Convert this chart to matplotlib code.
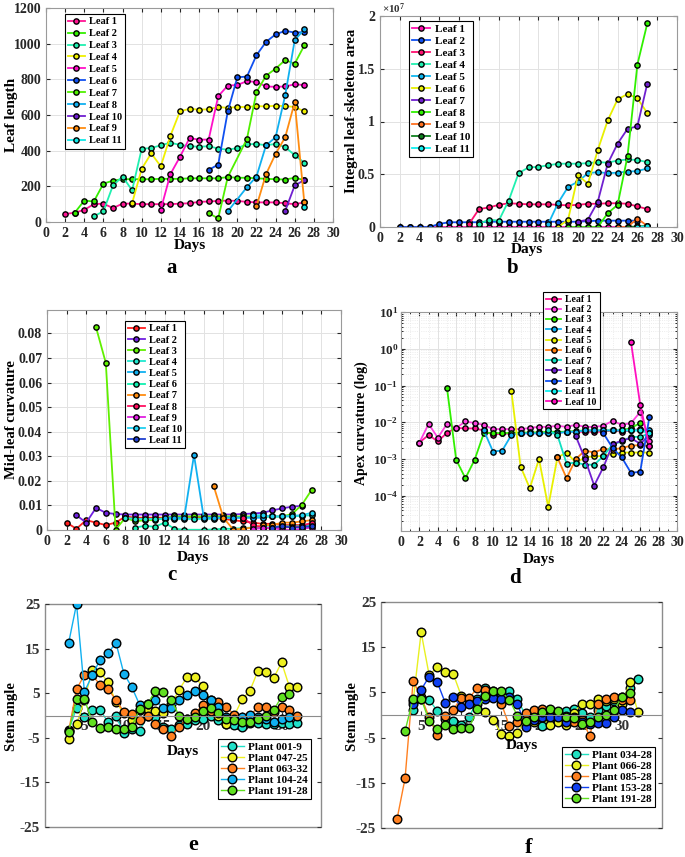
import numpy as np
import matplotlib
matplotlib.use('Agg')
import matplotlib.pyplot as plt
from matplotlib.ticker import MultipleLocator, FuncFormatter, LogLocator, NullFormatter
from matplotlib.patches import Rectangle

plt.rcParams['font.family'] = 'Liberation Serif'
plt.rcParams['font.weight'] = 'bold'
plt.rcParams['axes.unicode_minus'] = False
plt.rcParams['mathtext.fontset'] = 'custom'
plt.rcParams['mathtext.rm'] = 'Liberation Serif:bold'
plt.rcParams['mathtext.it'] = 'Liberation Serif:italic:bold'
plt.rcParams['mathtext.bf'] = 'Liberation Serif:bold'

nan = np.nan

# ---------- a: leaf length ----------
a_labels = ['Leaf 1', 'Leaf 2', 'Leaf 3', 'Leaf 4', 'Leaf 5', 'Leaf 6', 'Leaf 7', 'Leaf 8', 'Leaf 10', 'Leaf 9', 'Leaf 11']
a_colors = ['#ff1493', '#33ee00', '#20f0b0', '#f0f000', '#ff10c8', '#1050f0', '#50f000', '#10b0f0', '#7020d0', '#ff8c10', '#10e8e8']
a_start = [2, 3, 5, 9, 12, 17, 17, 19, 25, 22, 27]
a_vals = [
    [45, 52, 68, 100, 103, 78, 103, 103, 100, 100, 100, 100, 103, 105, 113, 115, 118, 120, 118, 113, 110, 110, 110, 105, 100, 110],
    [52, 120, 115, 215, 232, 240, 240, 240, 240, 242, 242, 242, 245, 245, 245, 245, 252, 248, 248, 245, 242, 240, 238, 248, 235],
    [32, 60, 205, 255, 178, 410, 415, 430, 445, 432, 425, 422, 425, 412, 405, 415, 435, 438, 430, 438, 420, 375, 332],
    [105, 298, 385, 312, 483, 620, 635, 630, 632, 645, 640, 645, 645, 650, 648, 652, 650, 645, 620],
    [70, 268, 365, 470, 462, 462, 705, 765, 768, 790, 785, 760, 758, 760, 772, 768],
    [292, 322, 620, 812, 815, 935, 1010, 1052, 1072, 1062, 1065],
    [50, 20, 252, nan, 465, 728, 820, 860, 908, 888, 990],
    [60, nan, 195, 255, 430, 475, 710, 1020, 1080],
    [62, 205, 235],
    [88, 268, 382, 475, 672, 110],
    [82],
]

# ---------- b: integral leaf-skeleton area (x 1e7) ----------
b_labels = ['Leaf %d' % i for i in range(1, 12)]
b_colors = ['#ff10b0', '#1050f0', '#ff1070', '#20f0b0', '#10b8f0', '#e8f000', '#7020d0', '#30f000', '#ff7020', '#108020', '#10f0f0']
b_start = [2, 2, 9, 10, 17, 18, 20, 19, 24, 25, 26]
b_vals = [
    [0] * 26,
    [0, 0, 0, 0, 0.03, 0.045, 0.045, 0.045, 0.045, 0.05, 0.05, 0.05, 0.05, 0.05, 0.05, 0.05, 0.05, 0.05, 0.05, 0.055, 0.06, 0.06, 0.06, 0.06, 0.06],
    [0.03, 0.17, 0.185, 0.21, 0.225, 0.22, 0.215, 0.215, 0.215, 0.21, 0.205, 0.21, 0.22, 0.22, 0.225, 0.225, 0.22, 0.195, 0.17],
    [0.03, 0.07, 0.06, 0.25, 0.51, 0.565, 0.57, 0.585, 0.6, 0.6, 0.6, 0.605, 0.615, 0.61, 0.63, 0.64, 0.635, 0.615],
    [0.03, 0.23, 0.38, 0.43, 0.51, 0.52, 0.51, 0.515, 0.525, 0.53, 0.555],
    [0.0, 0.07, 0.49, 0.41, 0.73, 1.01, 1.21, 1.26, 1.22, 1.08],
    [0.05, 0.07, 0.24, 0.6, 0.79, 0.93, 0.955, 1.36],
    [0.0, 0.0, 0.0, 0.0, 0.13, 0.21, 0.67, 1.54, 1.93],
    [0.0, 0.0, 0.08, 0.01],
    [0.0, 0.005, 0.01],
    [0.0, 0.005],
]

# ---------- c: mid-leaf curvature ----------
c_labels = ['Leaf %d' % i for i in range(1, 12)]
c_colors = ['#ff2020', '#7020e0', '#60f000', '#20e8d0', '#10b0f0', '#10f0b0', '#ff8c10', '#ff1060', '#e020e0', '#20d0f0', '#2040d0']
c_start = [2, 3, 5, 8, 12, 9, 17, 20, 21, 21, 23]
c_vals = [
    [0.003, 0.0005, 0.004, 0.003, 0.002, 0.003, 0.0055, 0.005, 0.005, 0.005, 0.005, 0.0048, 0.0048, 0.0048, 0.005, 0.0048, 0.0045, 0.004, 0.0035, 0.003, 0.0025, 0.0025, 0.002, 0.002, 0.002, 0.0025],
    [0.006, 0.003, 0.009, 0.007, 0.0065] + [0.0063] * 12 + [0.0065, 0.0067, 0.007, 0.008, 0.0088, 0.0095, 0.0098],
    [0.0825, 0.068, 0.0002, 0.005, 0.0035, 0.004, 0.004, 0.005] + [0.0055] * 12 + [0.0065, 0.0102, 0.0163],
    [0.005, 0.0045, 0.0045, 0.0045, 0.0045, 0.0045, 0.0045, 0.0045, 0.0045, 0.0045, 0.005, 0.005, 0.005, 0.0052, 0.0052, 0.0055, 0.0055, 0.0055, 0.0058, 0.006],
    [0.005, 0.005, 0.005, 0.0305, 0.005, 0.005, 0.005, 0.005, 0.005, 0.005, 0.005],
    [0.001, 0.0017, 0.0013, 0.003, 0.0005, 0.0001, nan, 0.0001, 0.0002, 0.0005, 0.0005, 0.0008, 0.001, 0.001, 0.0012, 0.0015, 0.0015, 0.0017, 0.002],
    [0.018, 0.005, 0.0002, 0.0005, 0.001, 0.002, 0.002, 0.003, 0.003, 0.0035, 0.004],
    [0.005, 0.002, 0.001, 0.0005, 0.001, 0.0012, 0.0015, 0.003],
    [0.0005, 0.0007, 0.001, 0.0, 0.0, 0.0005, 0.001],
    [0.006, 0.006, 0.0055, 0.0055, 0.0058, 0.006, 0.007],
    [0.001, 0.0015, 0.001, 0.0012, 0.0015],
]

# ---------- d: apex curvature (log) ----------
d_labels = ['Leaf 1', 'Leaf 2', 'Leaf 3', 'Leaf 4', 'Leaf 5', 'Leaf 6', 'Leaf 7', 'Leaf 8', 'Leaf 9', 'Leaf 11', 'Leaf 10']
d_colors = ['#ff1090', '#ff40e0', '#30f000', '#10b0f0', '#e8f000', '#ff8010', '#10e0c0', '#7020d0', '#1050f0', '#10f0f0', '#ff10c0']
d_start = [2, 2, 5, 9, 12, 17, 16, 19, 22, 24, 25]
d_vals = [
    [0.0028, 0.0045, 0.003, 0.0052, 0.007, 0.0068, 0.0068, 0.006, 0.0045, 0.005, 0.0048, 0.005, 0.005, 0.005, 0.0052, 0.0052, 0.0055, 0.0055, 0.0055, 0.0055, 0.0055, 0.006, 0.0055, 0.006, 0.0065, 0.0055],
    [0.0028, 0.009, 0.0038, 0.009, 0.007, 0.0105, 0.0095, 0.0085, 0.0065, 0.0065, 0.0065, 0.0065, 0.007, 0.0075, 0.0075, 0.008, 0.0075, 0.0085, 0.0075, 0.0075, 0.008, 0.011, 0.0085, 0.0095, 0.019, 0.003],
    [0.085, 0.00095, 0.0003, 0.00095, 0.005, 0.0052, 0.005, 0.0052, 0.0052, 0.0053, 0.0053, 0.0055, 0.0055, 0.0055, 0.0058, 0.006, 0.006, 0.006, 0.006, 0.006, 0.007, 0.0095],
    [0.006, 0.0016, 0.0017, 0.0045, 0.005, 0.005, 0.005, 0.005, 0.005, 0.0055, 0.0055, 0.006, 0.006, 0.006, 0.006, 0.006, 0.006, 0.006, 0.006],
    [0.07, 0.00062, 0.00016, 0.001, 0.00005, 0.0011, 0.0015, 0.0008, 0.0011, 0.0012, 0.0012, 0.0014, 0.0015, 0.0015, 0.0015, 0.0015],
    [0.0011, 0.0003, 0.001, 0.0017, 0.0015, 0.0019, 0.0018, 0.002, 0.0023, 0.0024, 0.0022],
    [0.006, 0.0045, 0.00075, 0.0008, 0.0007, 0.0007, 0.0012, 0.0025, 0.003, 0.004, 0.004, 0.005],
    [0.0042, 0.001, 0.00019, 0.0006, 0.0025, 0.0032, 0.0037, 0.0026, 0.0045],
    [0.005, 0.002, 0.0011, 0.00042, 0.00045, 0.014],
    [0.006, 0.006, 0.006, 0.005],
    [1.5, 0.03, 0.0022],
]

# ---------- e / f: stem angle ----------
e_labels = ['Plant 001-9', 'Plant 047-25', 'Plant 063-32', 'Plant 104-24', 'Plant 191-28']
e_colors = ['#20e0c8', '#eef020', '#ff8020', '#10b0f0', '#60e020']
e_start = 3
e_vals = [
    [-3.3, 1.6, -0.3, 1.2, 1.2, -1.5, -0.2, -4.0, -3.0, -3.5, 0.0, -0.3, -2.6, -3.0, -2.2, -1.8, -1.0, -0.7, 0.0, -1.0, -2.0, -2.2, -2.6, -1.7, -1.7, -1.8, -1.8, -1.7, -1.8, -1.6],
    [-5.2, -2.0, 3.5, 10.3, 9.8, 7.4, 3.0, 0.5, -1.1, 1.2, 1.5, 1.0, 0.5, 2.5, 5.7, 8.6, 8.6, 6.6, 3.4, 0.0, -2.0, 0.0, 3.6, 5.6, 10.0, 9.8, 8.4, 11.9, 6.4, 6.4],
    [-3.5, 5.9, 9.1, 9.1, 6.8, 5.9, 3.5, 0.8, 0.4, -1.0, 0.0, -2.0, -3.0, -4.5, -2.6, -0.7, 0.5, 2.3, 1.0, 3.0, 1.8, 0.2, -0.5, 0.0, 1.8, 1.8, 0.8, 1.8, 1.2, -0.2],
    [16.3, 25.0, 5.3, 9.1, 12.5, 14.0, 16.3, 9.4, 6.4, 2.4, 2.5, 3.5, 1.6, 1.6, 3.5, 4.6, 5.6, 4.6, 3.5, 2.0, -0.3, -0.7, -0.3, 0.2, -0.3, -0.7, -1.5, -0.7, -0.3, nan],
    [-3.7, 3.7, 3.7, -1.5, -2.8, -2.5, -3.0, -3.0, -2.5, 1.5, 2.5, 5.6, 5.3, 3.5, 0.0, -0.7, -0.3, 1.0, 1.6, 0.5, -0.7, -1.0, -1.5, -1.5, -0.8, 0.0, 1.2, 4.2, 4.9, nan],
]

f_labels = ['Plant 034-28', 'Plant 066-28', 'Plant 085-28', 'Plant 153-28', 'Plant 191-28']
f_colors = ['#20e0c0', '#e8f020', '#ff8020', '#1040f0', '#60e020']
f_start = 2
f_vals = [
    [nan, nan, 1.0, 3.5, 3.4, 0.9, -0.8, -1.3, -2.3, -0.5, 3.5, 6.0, 5.3, 4.5, 5.4, 3.5, -0.1, -0.3, -2.5, -0.8, 0.0, 0.8, 1.3, 0.5, -0.4, 1.0, 2.0, 3.0, 3.9, 6.0, 8.0],
    [nan, nan, 3.0, 18.3, 8.8, 10.6, 9.6, 9.1, 4.2, 3.5, 2.5, 0.7, -1.2, -4.2, -4.7, -4.0, -0.7, -1.5, -0.5, -2.3, -1.5, -2.3, 0.5, 2.5, 2.5, 3.5, 3.2, 3.5, 2.5, 7.2, 0.6],
    [-23.0, -14.0, 7.5, 4.0, -0.5, -4.5, -0.3, 1.2, 3.8, 3.8, 6.0, 5.5, 4.0, 2.5, -2.5, -1.5, 0.5, 1.2, 1.3, 1.0, 0.4, -0.3, -1.5, -1.0, -4.6, 2.5, 3.6, 3.9, 3.3, 3.3, nan],
    [nan, nan, 2.5, 5.6, 8.5, 7.3, 2.7, 4.0, 1.8, 2.5, 3.2, 3.5, 3.7, 3.5, 4.0, 2.5, -2.6, -1.0, -0.4, -0.5, -0.5, -1.5, -0.4, -1.5, -2.0, -1.8, -1.8, -0.4, 1.1, 0.7, nan],
    [nan, -3.5, 3.6, 3.6, -1.3, -3.0, -2.3, -3.0, -2.8, -2.8, 1.3, 4.3, 5.4, 5.2, 3.3, -0.2, -1.3, -0.5, 0.6, 1.3, 0.8, -0.4, -0.7, -2.0, -1.5, -0.5, 0.0, 1.0, 4.0, 4.8, nan],
]

W, H = 685, 857
fig = plt.figure(figsize=(W / 100, H / 100), dpi=100)


def rect(l, t, r, b):
    return [l / W, 1 - b / H, (r - l) / W, (b - t) / H]


def ftext(x, y, s, **kw):
    fig.text(x / W, 1 - y / H, s, ha='center', va='center', **kw)


def draw(ax, start, vals, color, label, ms=3.8, lw=1.3):
    y = np.array(vals, dtype=float)
    x = np.arange(start, start + len(y))
    ok = ~np.isnan(y)
    ax.plot(x[ok], y[ok], '-o', color=color, mfc=color, mec='black',
            ms=ms, mew=1.0, lw=lw, label=label)


def legend_at(ax, l, t, fs, spacing, **kw):
    leg = ax.legend(loc='upper left', bbox_to_anchor=(l / W, 1 - t / H),
                    bbox_transform=fig.transFigure, borderaxespad=0, fontsize=fs,
                    fancybox=False, edgecolor='black', framealpha=1,
                    labelspacing=spacing, borderpad=0.3, handletextpad=0.4, **kw)
    leg.get_frame().set_linewidth(0.8)
    return leg


def grid_axes(ax):
    ax.set_xlim(0, 30)
    ax.xaxis.set_major_locator(MultipleLocator(2))
    ax.grid(True, color='#e2e2e2', lw=0.7)
    ax.set_axisbelow(True)
    ax.tick_params(direction='in', labelsize=10, colors='#262626', length=3,
                   top=True, right=True)
    for s in ax.spines.values():
        s.set_color('#9a9a9a')


gfmt = FuncFormatter(lambda v, p: '%g' % v)

# panel a
ax = fig.add_axes(rect(46, 8, 333, 222))
for st, v, c, lab in zip(a_start, a_vals, a_colors, a_labels):
    draw(ax, st, v, c, lab)
grid_axes(ax)
ax.set_ylim(0, 1200)
ax.yaxis.set_major_locator(MultipleLocator(200))
legend_at(ax, 65, 14, 7.5, 0.25, handlelength=1.6)
ftext(12, 115, 'Leaf length', rotation=90, fontsize=11)
ftext(190, 246, 'Days', fontsize=11)
ftext(172, 268, 'a', fontsize=15)

# panel b
ax = fig.add_axes(rect(380, 16, 677, 227))
for st, v, c, lab in zip(b_start, b_vals, b_colors, b_labels):
    draw(ax, st, v, c, lab)
grid_axes(ax)
ax.set_ylim(0, 2)
ax.yaxis.set_major_locator(MultipleLocator(0.5))
ax.yaxis.set_major_formatter(gfmt)
legend_at(ax, 409, 21, 8, 0.2, handlelength=1.6)
fig.text(382 / W, 1 - 9 / H, r'$\times10^{7}$', fontsize=8, color='#333333',
         ha='left', va='center', fontweight='normal')
ftext(352, 111, 'Integral leaf-skeleton area', rotation=90, fontsize=10.5)
ftext(527, 250, 'Days', fontsize=11)
ftext(513, 268, 'b', fontsize=15)

# panel c
ax = fig.add_axes(rect(47, 310, 341, 530))
for st, v, c, lab in zip(c_start, c_vals, c_colors, c_labels):
    draw(ax, st, v, c, lab)
grid_axes(ax)
ax.set_ylim(0, 0.0895)
ax.yaxis.set_major_locator(MultipleLocator(0.01))
ax.yaxis.set_major_formatter(gfmt)
legend_at(ax, 125, 321, 7.5, 0.18, handlelength=1.6)
ftext(12, 420, 'Mid-leaf curvature', rotation=90, fontsize=10.5)
ftext(193, 557, 'Days', fontsize=11)
ftext(172, 575, 'c', fontsize=15)

# panel d
ax = fig.add_axes(rect(401, 312, 677, 531))
for st, v, c, lab in zip(d_start, d_vals, d_colors, d_labels):
    draw(ax, st, v, c, lab)
grid_axes(ax)
ax.set_yscale('log')
ax.set_ylim(1.1e-5, 10)
ax.yaxis.set_major_locator(LogLocator(base=10, numticks=10))
ax.yaxis.set_minor_locator(LogLocator(base=10, subs=np.arange(2, 10), numticks=10))
ax.yaxis.set_minor_formatter(NullFormatter())
ax.xaxis.set_minor_locator(MultipleLocator(1))
ax.grid(True, which='minor', color='#e6e6e6', lw=0.6, ls=':')
ax.tick_params(which='minor', direction='in', length=1.5, top=True, right=True)
ax.tick_params(axis='y', labelsize=9.5, pad=2)
legend_at(ax, 543, 292, 7, 0.13, handlelength=1.6)
ftext(361, 423, 'Apex curvature (log)', rotation=90, fontsize=10)
ftext(539, 559, 'Days', fontsize=11)
ftext(515, 578, 'd', fontsize=15)


def stem_axes(ax):
    ax.set_xlim(0, 35)
    ax.set_ylim(-25, 25)
    ax.set_xticks([5, 10, 15, 20, 25, 30])
    ax.set_yticks([-25, -15, -5, 5, 15, 25])
    ax.spines['bottom'].set_position(('data', 0))
    ax.spines['bottom'].set_color('#8c8c8c')
    for k in ['top', 'left', 'right']:
        ax.spines[k].set_visible(False)
    ax.add_patch(Rectangle((0, 0), 1, 1, transform=ax.transAxes, fill=False,
                           edgecolor='#8c8c8c', lw=1.0, clip_on=False, zorder=0.5))
    ax.tick_params(direction='in', labelsize=11, colors='#333333', length=3, right=True)


# panel e
ax = fig.add_axes(rect(45, 604, 321, 827))
for v, c, lab in zip(e_vals, e_colors, e_labels):
    draw(ax, e_start, v, c, lab, ms=6.2, lw=1.0)
stem_axes(ax)
legend_at(ax, 218, 739, 8, 0.1, handlelength=2.0)
ftext(12, 717, 'Stem angle', rotation=90, fontsize=10.5)
ftext(183, 751, 'Days', fontsize=11)
ftext(193, 845, 'e', fontsize=16)

# panel f
ax = fig.add_axes(rect(381, 602, 662, 828))
for v, c, lab in zip(f_vals, f_colors, f_labels):
    draw(ax, f_start, v, c, lab, ms=6.2, lw=1.0)
stem_axes(ax)
legend_at(ax, 562, 747, 8, 0.1, handlelength=2.0)
ftext(353, 717, 'Stem angle', rotation=90, fontsize=10.5)
ftext(522, 745, 'Days', fontsize=11)
ftext(529, 848, 'f', fontsize=16)

fig.savefig('out.png', dpi=100, facecolor='white')
